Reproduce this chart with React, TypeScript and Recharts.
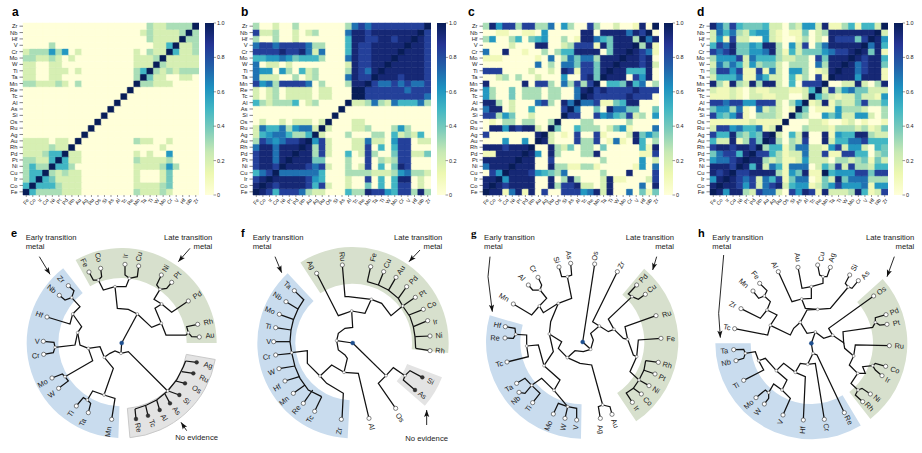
import React from 'react';
import { BarChart, Bar, Cell, XAxis, YAxis, ScatterChart, Scatter, PieChart, Pie } from 'recharts';

const rowLabels = ['Zr','Nb','Hf','V','Cr','Mo','W','Ti','Ta','Mn','Re','Tc','Al','As','Si','Os','Ru','Ag','Au','Rh','Pd','Pt','Ni','Cu','Ir','Co','Fe'];
const columnLabels = [...rowLabels].reverse();
const colorTicks = [0, 0.2, 0.4, 0.6, 0.8, 1];

// each character is a read level: 0-7 are tenths, 8 = 0.84, 9 = 0.94, a = 1.0; columns run Fe ... Zr, rows run Zr ... Fe
const levelValues: Record<string, number> = { '0':0, '1':0.1, '2':0.2, '3':0.3, '4':0.4, '5':0.5, '6':0.6, '7':0.7, '8':0.84, '9':0.94, a:1 };
const heatA = [
'000000000 000000000 03223333a','000000000 000000000 2322223a3','000000000 000000000 032222a33','000030000 000000000 00225a223',
'233363602 000000002 0322a5223','332232020 000000002 223a22222','220022000 000000002 22a322222','220022202 000000003 5a3232333',
'220022000 000000003 a42200220','332223203 00000000a 332220000','000000000 0000000a0 000000000','000000000 000000a00 000000000',
'000000000 00000a000 000000000','000000000 0000a0000 000000000','000000000 000a00000 000000000','000000000 00a000000 000000000',
'000000000 0a0000000 000000000','000000000 a00000000 000000000','22220220a 000000003 220020000','22223 22a0 000000000 000200000',
'222355a22 000000002 020060000','33225a522 000000003 222230000','3533a5530 000000002 222363000','355a32322 000000002 000240000',
'35a542222 000000002 000240000','5a5553222 000000002 222340000','a53333222 000000003 222320000',
];
const heatB = [
'300200300 000003787 88888888a','822300202 300007998 9999999a8','300300200 000005998 899899a98','788788887 330005988 99999a998',
'888898897 270005988 9999a9998','556676455 530007988 999a99998','702202000 000002988 99a999998','766063052 300003987 9a9999998',
'722200302 300007988 a99989998','867388887 03000399a 877878778','202302222 022000aa8 888887888','202302222 022000aa8 888888887',
'532333502 30000a223 732755573','000000000 0000a0000 000000000','000000000 000a00000 000000000','020020222 02a000220 000000000',
'275573677 2a2000223 000363000','256775335 a20003000 330523250','38767889a 682000227 220688022','7997999a9 382000228 050588000',
'899799a99 382005028 300488224','89979a999 440003008 032388000','8998a9998 782003028 050498000','578a77777 750003333 222367332',
'89a999998 650002008 050599020','9a9899998 582002004 050588020','a98588873 220005339 886588393',
];
const heatC = [
'396883883 370630083 00200190a','001100110 600000990 9999798a0','360035045 600301997 549993a79','000020009 900238881 94999a391',
'700900100 303559999 0499a9871','111000001 070374773 999a99890','000000007 030774884 99a999892','888000020 020981884 9a9955590',
'002303002 000600894 a99908690','900000908 83073838a 055495703','630040333 0330079a8 988889888','630040333 033007a98 888898880',
'993020007 83097a778 114599000','799020050 0008a7004 097744004','883640020 000a88008 675482306','010330330 03a000330 000030000',
'099698992 0a4005333 024610007','800000009 a20108008 100029464','00060060a 920008338 017109503','9998999a0 093240330 400000519',
'119999a96 093000339 000000118','99999a990 080000000 300000602','7999a9990 093311331 000001607','086a99986 543700000 300090008',
'99a699990 090393000 291100028','9a9899990 093889220 290000709','a99179190 800888679 290070414',
];
const heatD = [
'974854445 220326629 11351552a','275732566 210114023 9999999a2','261822006 210013020 988848a96','587944659 930628047 99999a795',
'878944667 931524446 7889a9491','366682755 532233084 999a98995','274752634 420333073 99a978994','388681181 720663012 9a9978991',
'255571175 220513081 a99969991','931932939 92050888a 002292039','211210211 2221125a2 836744222','111210221 122002a53 212242216',
'887886688 82036a129 132248335','466371072 3201a4011 163332003','854681033 320a43006 462266203','111111211 11a000221 001201001',
'288675571 2a0003222 133323124','855943549 a20529009 165599322','52291384a 930328009 255778555','8998998a3 551377221 682662054',
'478859a88 531227228 118855034','67789a993 231126222 033234142','9998a9592 751777025 382833255','989a88999 93164911a 566688488',
'69a987827 581477014 294777333','9a9986827 892566124 686667166','a96993287 720869819 222395128',
];

const rampStops = [[0,'#ffffd9'],[0.125,'#edf8b1'],[0.25,'#c7e9b4'],[0.375,'#7fcdbb'],[0.5,'#41b6c4'],[0.625,'#1d91c0'],[0.75,'#225ea8'],[0.875,'#253494'],[1,'#081d58']] as [number,string][];
const rgb = (h: string) => [1,3,5].map(i => parseInt(h.slice(i,i+2),16));
const colorOf = (v: number) => {
  for (let i = 1; i < rampStops.length; i++) {
    if (v <= rampStops[i][0]) {
      const [a, ca] = rampStops[i-1]; const [b, cb] = rampStops[i];
      const t = (v-a)/(b-a); const A = rgb(ca), B = rgb(cb);
      return `rgb(${A.map((x,k)=>Math.round(x+(B[k]-x)*t)).join(',')})`;
    }
  }
  return '#081d58';
};
const parseRow = (s: string) => s.replace(/ /g,'').slice(0,27).padEnd(27,'0').split('').map(c => levelValues[c]);

const yTicks = rowLabels.map((_, i) => i + 0.5);
const Heatmap = ({ rows, left, width }: any) => {
  const m = rows.map(parseRow);
  const data = columnLabels.map((name, c) => {
    const o: any = { name };
    rowLabels.forEach((_, r) => { o[`r${r}`] = 1; });
    return o;
  });
  return (
    <div style={{ position:'absolute', left, top:0 }}>
      <BarChart width={width} height={215} data={data} barCategoryGap={0} margin={{ top:23, right:0, bottom:0, left:0 }}>
        <XAxis dataKey="name" interval={0} height={20} tick={{ fontSize:5.2, fill:'#222' }} tickSize={2} tickMargin={1} angle={-55} textAnchor="end" axisLine={false} tickLine={{ stroke:'#333', strokeWidth:0.5 }} />
        <YAxis type="number" domain={[0,27]} ticks={yTicks} interval={0} width={23} axisLine={false} tickSize={3.5} tickMargin={2} tick={{ fontSize:5.8, fill:'#222' }} tickLine={{ stroke:'#333', strokeWidth:0.6 }} tickFormatter={(v: number) => columnLabels[Math.floor(v)]} />
        {[...rowLabels.keys()].reverse().map(r => (
          <Bar key={r} dataKey={`r${r}`} stackId="s" isAnimationActive={false}>
            {columnLabels.map((_, c) => { const f = colorOf(m[r][c]); return <Cell key={c} fill={f} stroke={f} strokeWidth={0.5} />; })}
          </Bar>
        ))}
      </BarChart>
    </div>
  );
};

const ColorBar = ({ left, id }: any) => (
  <div style={{ position:'absolute', left, top:0 }}>
    <BarChart width={30} height={215} data={[{ name:'c', v:1 }]} barCategoryGap={0} margin={{ top:23, right:0, bottom:20, left:0 }}>
      <defs>
        <linearGradient id={id} x1="0" y1="1" x2="0" y2="0">
          {rampStops.map(([o,c]) => <stop key={o} offset={o} stopColor={c} />)}
        </linearGradient>
      </defs>
      <XAxis dataKey="name" hide />
      <YAxis orientation="right" type="number" domain={[0,1]} ticks={colorTicks} interval={0} width={21.5} axisLine={false} tickSize={2.5} tickMargin={1} tick={{ fontSize:5.5, fill:'#222' }} tickLine={{ stroke:'#333', strokeWidth:0.5 }} tickFormatter={(v: number) => v===0 ? '0' : v.toFixed(1)} />
      <Bar dataKey="v" fill={`url(#${id})`} isAnimationActive={false} />
    </BarChart>
  </div>
);

// ---------- dendrograms: values in a 705 x 699 frame ----------
const blueFill = '#c9dcee', greenFill = '#d7e0cd', grayFill = '#e3e3e3';

const treeE = {
  letter:'e', center:[365,369], serif:false,
  sectors:[{ fill:blueFill, inner:190, outer:285, start:128, end:268 },{ fill:greenFill, inner:195, outer:285, start:119, end:0 },{ fill:grayFill, inner:197, outer:285, start:-10, end:-85, stroke:'#c9c9c9' }],
  paths:[[365,369,363,400],[363,400,345,393,330,400,313,412],[363,400,385,395,503,513],[365,369,412,282],[412,282,385,268,352,265,345,200],[345,200,310,210,295,180],[345,200,378,200,388,175],[388,175,375,165,375,133],[388,175,412,170,416,138],[295,180,280,180,267,156],[295,180,305,170,302,145],[412,282,455,322,484,310],[484,310,465,265,485,252],[485,252,462,238,480,208],[485,252,515,277,565,243],[480,208,470,195,484,165],[480,208,500,205,515,187],[484,310,498,345,558,345,565,338],[565,338,560,320,593,313],[565,338,575,350,598,351],[313,412,300,380,265,385],[313,412,340,445,312,525],[312,525,278,513,262,540],[312,525,345,535,335,598],[262,540,250,533,229,558],[262,540,272,550,265,578],[265,385,278,422,195,470],[195,470,187,462,156,474],[195,470,205,483,176,505],[265,385,240,375,233,338],[233,338,245,320,218,282],[233,338,225,375,165,382],[165,382,162,367,130,364],[165,382,160,398,131,403],[218,282,210,312,141,291],[218,282,240,260,215,233],[215,233,222,212,205,197],[215,233,195,240,178,226],
    [405,567,440,555,470,540,503,513,530,480,550,440,557,423],[557,423,590,427],[545,455,580,460],[527,483,555,490],[505,513,538,525],[495,522,510,550],[470,540,479,570],[437,557,444,587],[405,567,408,597]],
  joints:[363,400,412,282,345,200,295,180,388,175,484,310,485,252,480,208,565,338,313,412,265,385,312,525,262,540,195,470,233,338,218,282,215,233,165,382,503,513],
  leaves:[['Zr',205,197,183,178],['Nb',178,226,155,207],['Hf',141,291,118,283],['V',130,364,112,364],['Cr',131,403,107,407],['Mo',156,474,128,490],['W',176,505,155,523],['Ti',229,558,212,581],['Ta',265,578,248,607],['Mn',335,598,325,635],['Fe',267,156,253,128],['Co',302,145,295,112],['Ir',375,133,376,108],['Cu',416,138,417,110],['Ni',484,165,497,145],['Pt',515,187,532,165],['Pd',565,243,592,225],['Rh',593,313,625,306],['Au',598,351,630,346]],
  filled:[['Ag',590,427,625,436],['Ru',580,460,612,476],['Os',555,490,590,508],['Si',538,525,560,543],['As',510,550,530,572],['Al',479,570,492,593],['Tc',444,587,457,610],['Re',408,597,415,623]],
  notes:[['Early transition',77,53,'start'],['metal',77,80,'start'],['Late transition',637,53,'end'],['metal',637,80,'end'],['No evidence',590,652,'middle']],
  arrows:[[118,110,150,163],[570,85,535,125],[560,632,543,607]],
};
const treeF = {
  letter:'f', center:[368,369], serif:false,
  sectors:[{ fill:blueFill, inner:172, outer:286, start:133, end:267 },{ fill:greenFill, inner:178, outer:288, start:123, end:-6 },{ fill:grayFill, inner:175, outer:287, start:-21, end:-41 }],
  paths:[[368,369,320,362],[368,369,468,467],[468,467,490,443,525,467],[525,467,540,452,577,472],[525,467,520,480,555,510],[468,467,445,490,497,565],[320,362,325,340,345,325,368,322,365,273],[365,273,345,280,325,287,260,160],[365,273,405,280,424,238],[424,238,355,230,345,230,337,135],[424,238,455,250,483,287,518,258],
    [412,185,445,195,475,210,505,235,518,258,540,290,550,320,555,350,557,385],[412,185,422,140],[445,195,461,155],[475,212,498,172],[505,235,530,200],[518,258,556,232],[537,285,580,268],[550,320,593,302],[556,350,600,348],[557,385,600,392],
    [320,362,325,390,345,405,352,415,342,457],[342,457,385,460,417,595],[342,457,305,435,270,468],[270,468,290,490,340,520,336,598],[270,468,232,430,232,392,185,398],
    [222,238,205,265,190,300,183,330,180,365,185,398,195,440,210,475,235,510,275,530],[222,240,193,212],[205,268,168,245],[190,298,148,283],[183,330,137,323],[180,365,131,365],[185,400,137,405],[195,438,147,446],[208,470,165,483],[225,495,190,520],[248,510,220,550],[275,530,254,574]],
  joints:[320,362,468,467,525,467,365,273,424,238,518,258,342,457,270,468,185,398],
  leaves:[['Ta',193,212,173,195],['Nb',168,245,143,228],['Mo',148,283,120,271],['Ti',137,323,115,319],['V',131,365,116,365],['Cr',137,405,110,411],['W',147,446,125,457],['Hf',165,483,141,503],['Mn',190,520,162,542],['Re',220,550,199,569],['Tc',254,574,240,597],['Zr',334,598,327,633],['Al',417,595,425,620],['Os',497,565,510,593],['Rh',600,392,630,392],['Ni',600,348,627,346],['Ir',593,302,616,305],['Co',580,268,605,254],['Pt',556,232,578,220],['Pd',530,200,550,180],['Au',498,172,513,150],['Cu',461,155,472,130],['Fe',422,140,430,112],['Ru',337,135,337,110],['Ag',260,160,243,135]],
  filled:[['Si',577,472,602,484],['As',555,510,577,525]],
  notes:[['Early transition',68,53,'start'],['metal',68,80,'start'],['Late transition',637,53,'end'],['metal',637,80,'end'],['No evidence',590,655,'middle']],
  arrows:[[135,110,155,158],[570,90,537,125],[590,615,590,570]],
};
const treeG = {
  letter:'g', center:[368,366], serif:true,
  sectors:[{ fill:blueFill, inner:187, outer:290, start:164, end:269 },{ fill:greenFill, inner:185, outer:287, start:50, end:-56 }],
  paths:[[368,366,404,132],[368,366,392,388],[392,388,400,360,392,340,418,318],[418,318,398,305,472,155],[418,318,445,335,462,328],[462,328,445,297,516,230],[516,230,505,222,530,195],[516,230,535,238,556,223],[462,328,490,355,503,358],[503,358,495,320,588,287],[503,358,520,405,530,410],[530,410,535,360,603,355],[530,410,510,455,537,480],
    [557,422,552,450,537,480,520,505,498,520],[557,422,595,427],[550,450,585,462],[537,480,567,497],[520,505,544,522],[498,518,517,547],
    [392,388,370,395,345,392,322,413],[322,413,360,430,395,435,428,555],[428,555,415,560,421,595],[428,555,450,560,456,583],[322,413,295,385,305,365,268,342],[268,342,272,305,295,250],[295,250,335,235,322,170],[322,170,305,170,297,141],[322,170,335,165,332,130],[295,250,250,278,238,258],[238,258,260,235,240,210],[240,210,218,210,205,195],[240,210,245,195,234,172],[238,258,215,285,160,252],[268,342,280,395,252,437],[252,437,235,375,200,378],[200,378,200,345,167,343],[167,343,165,325,136,320],[167,343,160,355,135,354],[200,378,205,410,141,426],[252,437,300,480,282,511],[282,511,245,475,215,496],[282,511,323,560],[215,496,195,475,170,490],[215,496,195,520,177,517],[215,496,240,520,218,548],[323,560,295,550,280,582],[323,560,315,595],[323,560,350,565,350,600]],
  joints:[392,388,418,318,462,328,516,230,503,358,530,410,537,480,322,413,428,555,268,342,295,250,322,170,238,258,240,210,252,437,200,378,167,343,282,511,215,496,323,560],
  leaves:[['Hf',136,320,112,315],['Re',135,354,105,354],['Tc',141,426,118,432],['Ta',170,490,147,505],['Nb',177,517,167,541],['Ti',218,548,205,565],['Mo',280,582,265,617],['W',315,595,310,622],['V',350,600,347,622],['Ag',421,595,422,628],['Au',456,583,465,610],['Ir',517,547,530,565],['Co',544,522,563,544],['Ni',567,497,588,510],['Pt',585,462,607,473],['Rh',595,427,622,435],['Fe',603,355,632,356],['Ru',588,287,620,282],['Cu',556,223,575,205],['Pd',530,195,550,175],['Zr',472,155,483,135],['Os',404,132,405,108],['As',332,130,327,105],['Si',297,141,290,120],['Cr',234,172,220,147],['Al',205,195,185,172],['Mn',160,252,132,232]],
  filled:[],
  notes:[['Early transition',72,53,'start'],['metal',72,80,'start'],['Late transition',642,53,'end'],['metal',642,80,'end']],
  arrows:[[90,110,84,170,97,275],[590,110,578,150]],
};
const treeH = {
  letter:'h', center:[373,370], serif:false,
  sectors:[{ fill:blueFill, inner:182, outer:288, start:180, end:301 },{ fill:greenFill, inner:185, outer:288, start:42, end:-52 }],
  paths:[[373,370,385,336],[373,370,378,400],[378,400,390,405,472,578],[378,400,362,433],[362,433,385,430,412,598],[362,433,340,430,325,457],[325,457,355,470,349,600],[325,457,290,430,268,452],[268,452,300,480,285,510],[285,510,260,492,245,518],[245,518,235,510,207,533],[245,518,245,535,232,552],[285,510,310,535,288,585],[268,452,235,415,215,422],[215,422,230,450,170,481],[215,422,205,395,175,400],[175,400,170,388,140,389],[175,400,170,415,147,422],
    [385,336,360,340,340,307],[340,307,320,325,310,345,250,316],[250,316,270,285,240,270],[240,270,250,245,232,228],[232,228,240,212,218,190],[232,228,215,235,198,213],[240,270,220,295,162,266],[250,316,242,345,143,326],[340,307,360,270,392,268],[392,268,355,265,344,237],[344,237,315,245,274,155],[344,237,373,235,373,200],[373,200,345,205,333,142],[373,200,408,190,408,170],[408,170,398,165,392,135],[408,170,420,170,430,142],[392,268,430,265,484,201],[484,201,475,190,488,165],[484,201,495,205,514,182],
    [385,336,410,355,437,346],[437,346,425,325,560,228],[437,346,470,368,468,335,557,322,565,307],[565,307,565,293,597,284],[565,307,578,315,600,313],[470,368,473,385,500,408],[500,408,505,375,607,377],[500,408,487,435,512,460],[512,460,535,460,527,440,557,437],[557,437,565,430,596,439],[557,437,565,450,585,467],[512,460,492,490,513,510],[513,510,525,505,550,522],[513,510,505,525,527,545]],
  joints:[385,336,378,400,362,433,325,457,268,452,285,510,245,518,215,422,175,400,340,307,250,316,240,270,232,228,392,268,344,237,373,200,408,170,484,201,437,346,565,307,500,408,512,460,557,437,513,510],
  leaves:[['Ta',140,389,112,393],['Nb',147,422,117,428],['Ti',170,481,147,497],['Mo',207,533,185,553],['W',232,552,212,575],['V',288,585,280,606],['Hf',349,600,347,630],['Cr',412,598,418,622],['Re',472,578,485,600],['Rh',527,545,547,560],['Ni',550,522,570,535],['Ir',585,467,602,480],['Co',596,439,624,450],['Ru',607,377,637,378],['Pt',600,313,628,309],['Pd',597,284,622,275],['Os',560,228,583,212],['As',514,182,535,165],['Si',488,165,502,143],['Ag',430,142,435,113],['Cu',392,135,403,110],['Au',333,142,332,112],['Al',274,155,263,135],['Fe',218,190,205,165],['Mn',198,213,170,190],['Zr',162,266,137,254],['Tc',143,326,120,322]],
  filled:[],
  notes:[['Early transition',76,53,'start'],['metal',76,80,'start'],['Late transition',682,53,'end'],['metal',682,80,'end']],
  arrows:[[110,105,95,280,100,353],[622,110,600,170]],
};

const toPoints = (f: number[]) => { const o: any[] = []; for (let i = 0; i < f.length; i += 2) o.push({ x:f[i], y:f[i+1] }); return o; };
const Nothing = () => null;
const JointDot = ({ cx, cy }: any) => <circle cx={cx} cy={cy} r={1.4} fill="#fff" stroke="#555" strokeWidth={0.5} />;
const LeafDot = ({ cx, cy }: any) => <circle cx={cx} cy={cy} r={2.1} fill="#fff" stroke="#333" strokeWidth={0.6} />;
const FilledDot = ({ cx, cy }: any) => <circle cx={cx} cy={cy} r={1.9} fill="#333" stroke="#222" strokeWidth={0.4} />;
const RootDot = ({ cx, cy }: any) => <circle cx={cx} cy={cy} r={2.1} fill="#1d4f8f" stroke="#1d4f8f" strokeWidth={0.3} />;
const LeafText = ({ cx, cy, payload }: any) => (
  <text x={cx} y={cy} fontSize={7.4} fill="#222" textAnchor="middle" dominantBaseline="central" transform={`rotate(${payload.rot} ${cx} ${cy})`}>{payload.text}</text>
);
const NoteText = ({ cx, cy, payload }: any) => (
  <text x={cx} y={cy} fontSize={7.7} fill="#222" textAnchor={payload.anchor} dominantBaseline="central">{payload.text}</text>
);
const ArrowHead = ({ cx, cy, payload }: any) => (
  <polygon points="0,0 -7,-2.6 -5.5,0 -7,2.6" fill="#111" transform={`translate(${cx} ${cy}) rotate(${payload.ang})`} />
);

const TreePanel = ({ tree, left }: any) => {
  const [cx0, cy0] = tree.center;
  const labels = [...tree.leaves, ...tree.filled].map((l: any) => {
    const dx = l[3]-cx0, dy = cy0-l[4];
    const th = Math.atan2(dy,dx)*180/Math.PI;
    return { x:l[3], y:l[4], text:l[0], rot: dx >= 0 ? -th : 180-th };
  });
  const notes = tree.notes.map((n: any) => ({ text:n[0], x:n[1], y:n[2], anchor:n[3] }));
  const heads = tree.arrows.map((a: number[]) => {
    const n = a.length;
    return { x:a[n-2], y:a[n-1], ang: Math.atan2(a[n-1]-a[n-3], a[n-2]-a[n-4])*180/Math.PI };
  });
  const line = { stroke:'#111', strokeWidth:1.25 };
  const thin = { stroke:'#111', strokeWidth:0.9 };
  return (
    <div style={{ position:'absolute', left, top:220, width:235, height:233 }}>
      <div style={{ position:'absolute', left:0, top:0 }}>
        <PieChart width={235} height={233} margin={{ top:0, right:0, bottom:0, left:0 }}>
          {tree.sectors.map((s: any, i: number) => (
            <Pie key={i} data={[{ v:1 }]} dataKey="v" cx={cx0/3} cy={cy0/3} innerRadius={s.inner/3} outerRadius={s.outer/3} startAngle={s.start} endAngle={s.end} fill={s.fill} stroke={s.stroke || 'none'} strokeWidth={1} isAnimationActive={false} />
          ))}
        </PieChart>
      </div>
      <div style={{ position:'absolute', left:0, top:0 }}>
        <ScatterChart width={235} height={233} margin={{ top:0, right:0, bottom:0, left:0 }}>
          <XAxis type="number" dataKey="x" domain={[0,705]} hide />
          <YAxis type="number" dataKey="y" domain={[0,699]} reversed hide />
          {tree.paths.map((p: number[], i: number) => <Scatter key={`p${i}`} data={toPoints(p)} line={line} shape={Nothing} isAnimationActive={false} />)}
          {tree.arrows.map((p: number[], i: number) => <Scatter key={`a${i}`} data={toPoints(p)} line={thin} shape={Nothing} isAnimationActive={false} />)}
          <Scatter data={heads} shape={ArrowHead} isAnimationActive={false} />
          <Scatter data={toPoints(tree.joints)} shape={JointDot} isAnimationActive={false} />
          <Scatter data={tree.leaves.map((l: any) => ({ x:l[1], y:l[2] }))} shape={LeafDot} isAnimationActive={false} />
          <Scatter data={tree.filled.map((l: any) => ({ x:l[1], y:l[2] }))} shape={FilledDot} isAnimationActive={false} />
          <Scatter data={[{ x:cx0, y:cy0 }]} shape={RootDot} isAnimationActive={false} />
          <Scatter data={labels} shape={LeafText} isAnimationActive={false} />
          <Scatter data={notes} shape={NoteText} isAnimationActive={false} />
        </ScatterChart>
      </div>
      <div style={{ position:'absolute', left:11, top:6, fontSize:11, fontWeight:700, lineHeight:'14px', fontFamily: tree.serif ? '"Liberation Serif"' : '"Liberation Sans"' }}>{tree.letter}</div>
    </div>
  );
};

const Letter = ({ left, text }: any) => <div style={{ position:'absolute', left, top:5, fontSize:12, fontWeight:700, lineHeight:'14px' }}>{text}</div>;

export default function App() {
  return (
    <div style={{ position:'absolute', left:0, top:0, width:922, height:453, overflow:'hidden', background:'#fff', fontFamily:'"Liberation Sans", sans-serif' }}>
      <Heatmap rows={heatA} left={0} width={199} />
      <ColorBar left={205} id="gradA" />
      <Heatmap rows={heatB} left={230} width={201} />
      <ColorBar left={436.7} id="gradB" />
      <Heatmap rows={heatC} left={460} width={199} />
      <ColorBar left={664} id="gradC" />
      <Heatmap rows={heatD} left={687} width={201} />
      <ColorBar left={893.7} id="gradD" />
      <Letter left={12} text="a" /><Letter left={241} text="b" /><Letter left={468} text="c" /><Letter left={697} text="d" />
      <TreePanel tree={treeE} left={0} />
      <TreePanel tree={treeF} left={230} />
      <TreePanel tree={treeG} left={460} />
      <TreePanel tree={treeH} left={687} />
    </div>
  );
}
